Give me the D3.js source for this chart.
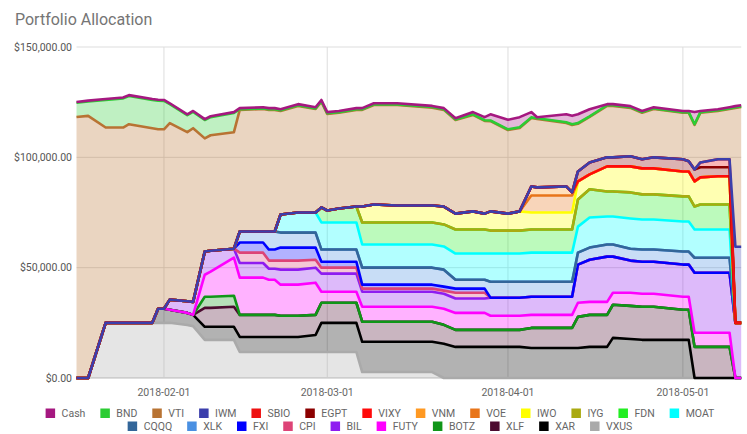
<!DOCTYPE html>
<html>
<head>
<meta charset="utf-8">
<script src="https://cdnjs.cloudflare.com/ajax/libs/d3/7.8.5/d3.min.js"></script>
<style>
  body { margin: 0; background: #fff; }
  svg { display: block; font-family: Roboto, Arial, sans-serif; }
</style>
</head>
<body>
<svg width="747" height="434"></svg>
<script>
// sample dates
var dates = ["2018-01-17","2018-01-19","2018-01-22","2018-01-25","2018-01-26","2018-01-30","2018-01-31",
  "2018-02-01","2018-02-02","2018-02-05","2018-02-06","2018-02-08","2018-02-09","2018-02-13",
  "2018-02-14","2018-02-18","2018-02-19","2018-02-20","2018-02-21","2018-02-24","2018-02-27","2018-02-28",
  "2018-03-01","2018-03-03","2018-03-06","2018-03-07","2018-03-09","2018-03-13","2018-03-19",
  "2018-03-21","2018-03-23","2018-03-26","2018-03-28","2018-03-29","2018-04-01","2018-04-03",
  "2018-04-05","2018-04-06","2018-04-11","2018-04-12","2018-04-13",
  "2018-04-15","2018-04-18","2018-04-19","2018-04-22","2018-04-24","2018-04-26","2018-05-01","2018-05-02",
  "2018-05-03","2018-05-04","2018-05-07","2018-05-09","2018-05-10","2018-05-11"]

// legend order (top of stack first)
var tickers = ["Cash","BND","VTI","IWM","SBIO","EGPT","VIXY","VNM","VOE","IWO","IYG","FDN","MOAT",
  "CQQQ","XLK","FXI","CPI","BIL","FUTY","BOTZ","XLF","XAR","VXUS"]
var colors = ["#a51880","#2ccc34","#b87333","#3b3eac","#ee1111","#8b0000","#ff0a0a","#ff9922","#e8751a",
  "#ffff00","#aaaa11","#22ee22","#00ffff","#336699","#4a90e2","#0000ff","#dd4477","#8e1cf0","#ff00ff",
  "#109618","#4c0b30","#000000","#aaaaaa"]
var yTicks = [0, 50, 100, 150]

// values in thousands of dollars, one per date
var VXUS = [0,0,25,25,25,25,25,25,25,24,23.5,17.3,17.3,17.3,
  11.8,11.8,11.8,11.8,11.8,11.8,11.8,11.8,11.8,11.8,11.8,
  2.7,2.7,2.7,2.7,
  0,0,0,0,0,0,0,0,0,0,0,0,0,0,0,0,0,0,0,0,0,0,0,0,0,0]
var XAR = [0,0,0,0,0,0,6.4,6.4,5.9,5.5,5.1,5.9,5.9,5.9,
  6.8,6.8,6.8,6.8,6.8,6.8,7.7,13.2,13.2,13.2,13.2,
  13.7,13.7,13.7,13.7,
  15.5,14.1,14.1,14.1,14.1,14.1,14.1,
  13.6,13.6,13.6,13.6,13.6,
  14.1,14.1,18.2,17.7,17.3,17.3,17.3,17.3,
  0,0,0,0,0,0]
var XLF = [0,0,0,0,0,0,0,0,0,0,0,8.6,8.6,9.1,
  10,10,10,10,9.6,9.6,9.1,9.1,9.1,9.1,9.1,
  9.1,9.1,9.1,9.1,
  8.6,7.7,7.7,7.7,7.7,7.7,7.7,
  9.1,9.1,9.1,9.1,14.1,
  14.5,14.5,15,15,15,15,13.6,13.6,
  14.1,14.1,14.1,14.1,0,0]
var BOTZ = [0,0,0,0,0,0,0,0,0,0,0,5,5,5,
  0,0,0,0,0,0,0,0,0,0,0,0,0,0,0,0,0,0,0,0,0,0,0,0,0,0,0,
  0,0,0,0,0,0,0,0,0,0,0,0,0,0]
var FUTY = [0,0,0,0,0,0,0,0,0,0,0,10,11.4,17.2,
  16.9,16.9,15.9,15.9,14.1,14.1,14.6,5,5,5,5,
  6.8,6.8,6.8,6.8,
  7.3,7.7,7.7,7.7,6.4,6.4,6.4,
  5.9,5.9,5.9,5.9,6.4,
  5.9,5.9,5.4,5.9,5.9,5.9,5.9,5.9,
  6.4,6.4,6.4,6.4,0,0]
var BIL = [0,0,0,0,0,0,0,0,4.6,5.3,5.9,10.5,9.5,4.1,
  6.6,6.6,5,5,6.8,6.8,6.8,8.2,8.2,8.2,8.2,
  6.8,6.8,6.8,6.8,
  6.8,6.5,6.5,6.5,8.2,8.2,8.2,
  8.2,8.2,8.2,8.2,17.3,
  19.1,20.5,16.4,14.6,14.5,14.5,14.6,14.6,
  27.2,27.2,27.2,27.2,25,25]
var CPI = [0,0,0,0,0,0,0,0,0,0,0,0,0,0,
  4.7,4.7,3.7,3.7,4.1,4.1,3.6,2.7,2.7,2.7,2.7,
  1.4,1.4,1.4,1.4,
  1.4,2.6,2.6,2.6,0,0,0,
  0,0,0,0,0,0,0,0,0,0,0,0,0,0,0,0,0,0,0]
var FXI = [0,0,0,0,0,0,0,0,0,0,0,0,0,0,
  4.6,4.6,5,5,5.9,5.9,5.5,2.7,2.7,2.7,2.7,
  1.8,1.8,1.8,1.8,
  1.8,1.9,1.9,1.9,0,0,0,
  0,0,0,0,0,0,0,0,0,0,0,0,0,0,0,0,0,0,0]
var XLK = [0,0,0,0,0,0,0,0,0,0,0,0,0,0,
  5,5,8.2,8.2,6.8,6.8,6.8,5.5,5.5,5.5,5.5,
  7.7,7.7,7.7,7.7,
  7.7,4,4,4,7.2,7.2,7.2,
  6.8,6.8,6.8,6.8,5.4,
  5.5,5.5,5.5,5.4,5.5,5.5,5.9,5.9,
  6.8,6.8,6.8,6.8,0,0]
var CQQQ = [0,0,0,0,0,0,0,0,0,0,0,0,0,0,0,0,0,0,0,0,0,0,0,0,0,0,0,0,
  0,0,0,0,0,0,0,0,0,0,0,0,0,0,0,0,0,0,0,0,0,0,0,0,0,0,0]
var MOAT = [0,0,0,0,0,0,0,0,0,0,0,0,0,0,
  0,0,0,0,8.2,9.1,9.1,12.3,12.3,12.3,12.3,
  10.5,10.5,10.5,10.5,
  10.5,11.9,11.9,11.9,12.8,12.8,12.8,
  13.2,13.2,13.2,13.2,11.8,
  13.6,12.7,12.7,13.7,13.6,13.6,13.6,13.6,
  12.8,12.8,12.8,12.8,0,0]
var FDN = [0,0,0,0,0,0,0,0,0,0,0,0,0,0,
  0,0,0,0,0,0,0,6.8,5.4,6.3,7.2,
  10,10,10,10,
  10,10.9,10.9,10.9,10.4,10.4,10.4,
  10.5,10.5,10.5,10.5,12.3,
  12.8,11.3,11.3,11.8,11.4,11.4,11.4,11.4,
  10.4,11.3,11.3,11.3,0,0]
var IYG = [0,0,0,0,0,0,0,0,0,0,0,0,0,0,0,0,0,0,0,0,0,0,0,0,0,0,0,0,
  0,0,0,0,0,0,0,0,0,0,0,0,0,0,0,0,0,0,0,0,0,0,0,0,0,0,0]
var IWO = [0,0,0,0,0,0,0,0,0,0,0,0,0,0,
  0,0,0,0,0,0,0,0,0,0,0,
  7.2,8.1,7.7,7.7,
  8.1,7.2,8.2,7.2,8.7,7.7,8.7,
  7.7,7.7,7.7,7.7,8.2,
  6.8,11.4,11.4,11.8,11.8,11.8,11.3,11.3,
  11.4,12.3,12.8,12.8,0,0]
var VOE = [0,0,0,0,0,0,0,0,0,0,0,0,0,0,0,0,0,0,0,0,0,0,0,0,0,0,0,0,0,0,0,0,0,0,0,0,
  7.7,7.7,7.7,7.7,
  0,0,0,0,0,0,0,0,0,0,0,0,0,0,0]
var VNM = [0,0,0,0,0,0,0,0,0,0,0,0,0,0,0,0,0,0,0,0,0,0,0,0,0,0,0,0,0,0,0,0,0,0,0,0,
  4.1,3.7,4.1,1.4,
  0,0,0,0,0,0,0,0,0,0,0,0,0,0,0]
var VIXY = [0,0,0,0,0,0,0,0,0,0,0,0,0,0,0,0,0,0,0,0,0,0,0,0,0,0,0,0,
  0,0,0,0,0,0,0,0,0,0,0,0,0,0,0,0,0,0,0,0,0,0,0,0,0,0,0]
var EGPT = [0,0,0,0,0,0,0,0,0,0,0,0,0,0,0,0,0,0,0,0,0,0,0,0,0,0,0,0,0,0,0,0,0,0,0,0,0,0,0,0,
  4.5,5.4,4.1,4.1,4.6,4.1,5,5.5,4.6,5.4,4.6,4.1,4.1,0,0]
var SBIO = [0,0,0,0,0,0,0,0,0,0,0,0,0,0,0,0,0,0,0,0,0,0,0,0,0,0,0,0,0,0,0,0,0,0,0,0,0,0,0,0,
  0,0,0,0,0,0,0,0,0,0,2.2,3.6,3.6,0,0]
var IWM = [0,0,0,0,0,0,0,0,0,0,0,0,0,0,0,0,0,0,0,0,0,0,0,0,0,0,0,0,0,0,0,0,0,0,0,0,0,0,0,0,
  0,0,0,0,0,0,0,0,0,0,0,0,0,34.5,34.5]
var VTI = [118.3,118.8,88.5,88.5,90,88.2,81.3,81.3,80,76.6,78.7,51.3,52.3,52.8,
  55.1,55.5,55.1,55.1,46.9,48.3,46.9,47.9,43.8,43.4,43.8,
  43.8,45.1,45.5,44.3,
  43.8,42.4,43.7,42.0,40.9,37.9,37.8,
  31.0,31.0,28.8,30.6,21.6,
  20.6,23.3,23.3,21.9,21.1,21.9,21.1,22.0,
  20.2,22.5,21.9,22.8,62.9,63.3]
var BND = [6.4,6.5,12.5,13.2,12.8,12.8,13,12.9,8.6,7.7,7.4,8.3,8.2,8.7,
  0.3,0.3,0.3,0.3,0.3,0.3,0.3,0.3,0.3,0.3,0.3,0.3,0.3,0.3,0.3,0.3,0.3,0.3,0.3,0.3,0.3,
  0.3,0.3,0.3,0.3,0.3,0.3,0.3,0.3,0.3,0.3,0.3,0.3,0.3,0.3,0.3,0.3,0.3,0.3,0.3,0.3]
var Cash = [0.4,0.4,0.4,0.4,0.4,0.4,0.4,0.4,0.4,0.4,0.4,0.4,0.4,0.4,
  0.5,0.5,0.5,0.5,0.5,0.5,0.5,0.5,0.5,0.5,0.5,
  0.5,0.5,0.5,0.5,
  0.5,0.5,1.0,1.4,2.8,4.3,4.6,
  2.4,0.5,3.6,3.8,4,
  3.2,0.5,0.5,0.5,0.5,0.5,0.5,0.5,
  5.5,0.5,0.5,0.5,0.5,0.5]

var seriesValues = [Cash, BND, VTI, IWM, SBIO, EGPT, VIXY, VNM, VOE, IWO, IYG, FDN, MOAT,
  CQQQ, XLK, FXI, CPI, BIL, FUTY, BOTZ, XLF, XAR, VXUS]

var parse = d3.timeParse("%Y-%m-%d")
var rows = dates.map(function(d, i) {
  var row = { date: parse(d) }
  tickers.forEach(function(t, k) { row[t] = seriesValues[k][i] })
  return row
})

var svg = d3.select("svg")
var plotLeft = 76.5, plotRight = 741.2, plotTop = 47, plotBottom = 378

var x = d3.scaleTime()
  .domain([parse("2018-01-17"), parse("2018-05-11")])
  .range([plotLeft, plotRight])
var y = d3.scaleLinear().domain([0, 150]).range([plotBottom, plotTop])
var color = d3.scaleOrdinal().domain(tickers).range(colors)

// title
svg.append("text")
  .attr("x", 15).attr("y", 25)
  .attr("font-size", 16)
  .attr("fill", "#757575")
  .text("Portfolio Allocation")

// grid
svg.append("g").selectAll("line")
  .data(yTicks)
  .enter().append("line")
  .attr("x1", plotLeft).attr("x2", plotRight)
  .attr("y1", function(d) { return y(d) }).attr("y2", function(d) { return y(d) })
  .attr("stroke", function(d) { return d === 0 ? "#bbb" : "#ddd" })
  .attr("stroke-width", 1)

var monthTicks = x.ticks(d3.timeMonth.every(1)).filter(function(d) { return x(d) > plotLeft + 5 })
svg.append("g").selectAll("line")
  .data(monthTicks)
  .enter().append("line")
  .attr("x1", function(d) { return x(d) }).attr("x2", function(d) { return x(d) })
  .attr("y1", plotTop).attr("y2", plotBottom)
  .attr("stroke", "#ddd")

// y labels
var fmt = d3.format("$,.2f")
svg.append("g").selectAll("text")
  .data(yTicks)
  .enter().append("text")
  .attr("x", 72).attr("y", function(d) { return y(d) })
  .attr("dy", "0.35em")
  .attr("text-anchor", "end")
  .attr("font-size", 10.5)
  .attr("fill", "#555")
  .text(function(d) { return fmt(d * 1000) })

// x labels
svg.append("g").selectAll("text")
  .data(monthTicks)
  .enter().append("text")
  .attr("x", function(d) { return x(d) }).attr("y", 396)
  .attr("text-anchor", "middle")
  .attr("font-size", 10.5)
  .attr("fill", "#666")
  .text(d3.timeFormat("%Y-%m-%d"))

// stack, bottom layer is the last legend entry
var stackKeys = tickers.slice().reverse()
var stacked = d3.stack().keys(stackKeys)(rows)

var area = d3.area()
  .x(function(d) { return x(d.data.date) })
  .y0(function(d) { return y(d[0]) })
  .y1(function(d) { return y(d[1]) })
var line = d3.line()
  .x(function(d) { return x(d.data.date) })
  .y(function(d) { return y(d[1]) })

svg.append("g").selectAll("path")
  .data(stacked)
  .enter().append("path")
  .attr("d", area)
  .attr("fill", function(s) { return color(s.key) })
  .attr("fill-opacity", 0.3)

svg.append("g").selectAll("path")
  .data(stacked)
  .enter().append("path")
  .attr("d", line)
  .attr("fill", "none")
  .attr("stroke", function(s) { return color(s.key) })
  .attr("stroke-width", 2.6)
  .attr("stroke-linejoin", "round")

// legend, two centred rows
var legendRows = [tickers.slice(0, 13), tickers.slice(13)]
var legendY = [413, 426]
legendRows.forEach(function(names, r) {
  var g = svg.append("g")
  var cx = 0
  names.forEach(function(name) {
    var item = g.append("g").attr("transform", "translate(" + cx + ",0)")
    item.append("rect")
      .attr("x", 0).attr("y", legendY[r] - 4.5)
      .attr("width", 9.5).attr("height", 9.5)
      .attr("fill", color(name))
    var t = item.append("text")
      .attr("x", 16).attr("y", legendY[r])
      .attr("dy", "0.35em")
      .attr("font-size", 10.5)
      .attr("fill", "#666")
      .text(name)
    cx += 16 + t.node().getComputedTextLength() + 15
  })
  var w = cx - 15
  g.attr("transform", "translate(" + (380 - w / 2) + ",0)")
})
</script>
</body>
</html>
